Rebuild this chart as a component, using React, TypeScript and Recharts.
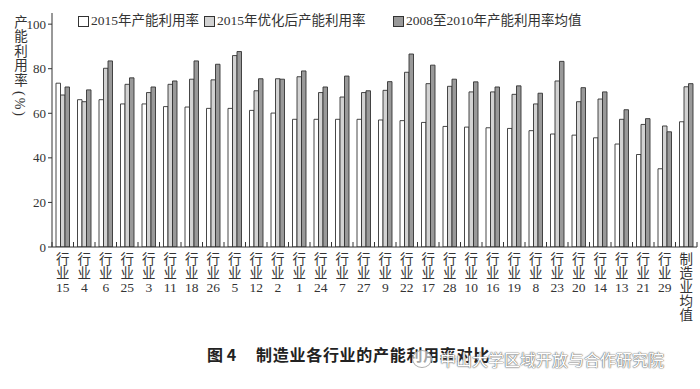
import React from "react";
import { BarChart, Bar, XAxis, YAxis } from "recharts";

// industry order as printed under the x axis
const industries = [
  "15", "4", "6", "25", "3", "11", "18", "26", "5", "12",
  "2", "1", "24", "7", "27", "9", "22", "17", "28", "10",
  "16", "19", "8", "23", "20", "14", "13", "21", "29", "制造业均值",
];

// 2015年产能利用率
const util2015 = [
  73.5, 66.1, 66.1, 64.2, 64.2, 63.0, 62.8, 62.2, 62.2, 61.3,
  60.1, 57.3, 57.3, 57.3, 57.3, 57.0, 56.7, 55.9, 54.1, 53.8,
  53.5, 53.2, 52.2, 50.7, 50.2, 49.0, 46.2, 41.5, 35.1, 56.2,
];

// 2015年优化后产能利用率
const optimized2015 = [
  68.2, 65.2, 80.2, 73.0, 69.3, 73.0, 75.3, 75.0, 85.9, 70.1,
  75.5, 76.4, 69.3, 67.3, 69.3, 70.3, 78.4, 73.3, 72.1, 69.6,
  69.6, 68.5, 64.2, 74.5, 65.2, 66.4, 57.3, 55.0, 54.3, 71.9,
];

// 2008至2010年产能利用率均值
const avg2008to2010 = [
  71.8, 70.5, 83.5, 75.9, 71.8, 74.5, 83.5, 82.0, 87.7, 75.5,
  75.3, 79.0, 71.8, 76.7, 70.1, 74.2, 86.6, 81.6, 75.3, 74.1,
  71.8, 72.3, 69.0, 83.3, 71.5, 69.6, 61.6, 57.6, 51.7, 73.3,
];

const yTicks = [0, 20, 40, 60, 80, 100];

const data = industries.map((name, i) => ({
  name,
  a: util2015[i],
  b: optimized2015[i],
  c: avg2008to2010[i],
}));

const W = 700;
const H = 389;
const PLOT_LEFT = 52;
const PLOT_RIGHT = 3;
const BAND = (W - PLOT_LEFT - PLOT_RIGHT) / industries.length;

const INK = "#333";
const SERIF = "'Liberation Serif', 'Noto Sans CJK SC', serif";
const LIGHT = "#d2d2d2";
const DARK = "#999999";

const XTick = (props: any) => {
  const { x, y, payload, index } = props;
  const label: string = payload.value;
  const rows = /^\d+$/.test(label) ? ["行", "业", label] : label.split("");
  const last = index === industries.length - 1;
  return (
    <g>
      <line x1={x - BAND / 2} y1={y} x2={x - BAND / 2} y2={y - 5} stroke={INK} />
      {last && <line x1={x + BAND / 2} y1={y} x2={x + BAND / 2} y2={y - 5} stroke={INK} />}
      {rows.map((r, i) => (
        <text
          key={i}
          x={x}
          y={y + 16.5 + i * 14}
          textAnchor="middle"
          fontSize={13.5}
          fontFamily={SERIF}
          fill={INK}
        >
          {r}
        </text>
      ))}
    </g>
  );
};

const legendItems = [
  { left: 78, fill: "#fff", text: "2015年产能利用率" },
  { left: 204, fill: LIGHT, text: "2015年优化后产能利用率" },
  { left: 393, fill: DARK, text: "2008至2010年产能利用率均值" },
];

export default function App() {
  return (
    <div style={{ position: "absolute", left: 0, top: 0, width: W, height: H, background: "#fff" }}>
      <BarChart
        width={W}
        height={H}
        data={data}
        margin={{ top: 13, right: PLOT_RIGHT, left: 0, bottom: 62 }}
        barGap={0}
        barSize={4.5}
      >
        <XAxis
          dataKey="name"
          interval={0}
          height={80}
          tickSize={0}
          tickMargin={0}
          tickLine={false}
          axisLine={{ stroke: INK }}
          tick={<XTick />}
        />
        <YAxis
          width={PLOT_LEFT}
          domain={[0, 105]}
          ticks={yTicks}
          allowDataOverflow
          tickSize={4}
          tickMargin={2}
          axisLine={{ stroke: INK }}
          tickLine={{ stroke: INK }}
          tick={{ fill: INK, fontSize: 13, fontFamily: SERIF }}
        />
        <Bar dataKey="a" fill="#fff" stroke={INK} strokeWidth={0.9} isAnimationActive={false} />
        <Bar dataKey="b" fill={LIGHT} stroke={INK} strokeWidth={0.9} isAnimationActive={false} />
        <Bar dataKey="c" fill={DARK} stroke={INK} strokeWidth={0.9} isAnimationActive={false} />
      </BarChart>

      {legendItems.map((it) => (
        <div
          key={it.text}
          style={{
            position: "absolute",
            left: it.left,
            top: 12,
            display: "flex",
            alignItems: "center",
            fontFamily: SERIF,
            fontSize: 13.5,
            color: INK,
            whiteSpace: "nowrap",
            lineHeight: "18px",
          }}
        >
          <span
            style={{
              display: "inline-block",
              width: 9,
              height: 9,
              background: it.fill,
              border: `1px solid ${INK}`,
              marginRight: 2,
            }}
          />
          {it.text}
        </div>
      ))}

      {/* vertical y-axis title: upright characters, then the unit turned sideways */}
      <div
        style={{
          position: "absolute",
          left: 11,
          top: 15,
          writingMode: "vertical-rl",
          fontFamily: SERIF,
          fontSize: 13.5,
          lineHeight: "16px",
          color: INK,
          letterSpacing: 1,
        }}
      >
        产能利用率
        <span style={{ textOrientation: "sideways", fontSize: 14, letterSpacing: 2, marginTop: 3 }}>
          (%)
        </span>
      </div>

      <div
        style={{
          position: "absolute",
          left: 207,
          top: 344,
          fontFamily: "'Noto Sans CJK SC', sans-serif",
          fontWeight: 700,
          fontSize: 16,
          color: "#222",
          whiteSpace: "nowrap",
          lineHeight: "20px",
        }}
      >
        图 4<span style={{ marginLeft: 20, letterSpacing: 0.7 }}>制造业各行业的产能利用率对比</span>
      </div>

      <div
        style={{
          position: "absolute",
          left: 412,
          top: 348,
          display: "flex",
          alignItems: "center",
          fontFamily: "'Noto Sans CJK SC', sans-serif",
          fontSize: 16,
          color: "#fff",
          whiteSpace: "nowrap",
          lineHeight: "22px",
          textShadow: "0 0 1px #666, 0 0 1px #666, 0 0 2px #999",
        }}
      >
        <span
          style={{
            display: "inline-block",
            width: 18,
            height: 16,
            borderRadius: "50%",
            border: "1px solid #aaa",
            marginRight: 8,
            background: "rgba(255,255,255,0.6)",
          }}
        />
        中山大学区域开放与合作研究院
      </div>
    </div>
  );
}
